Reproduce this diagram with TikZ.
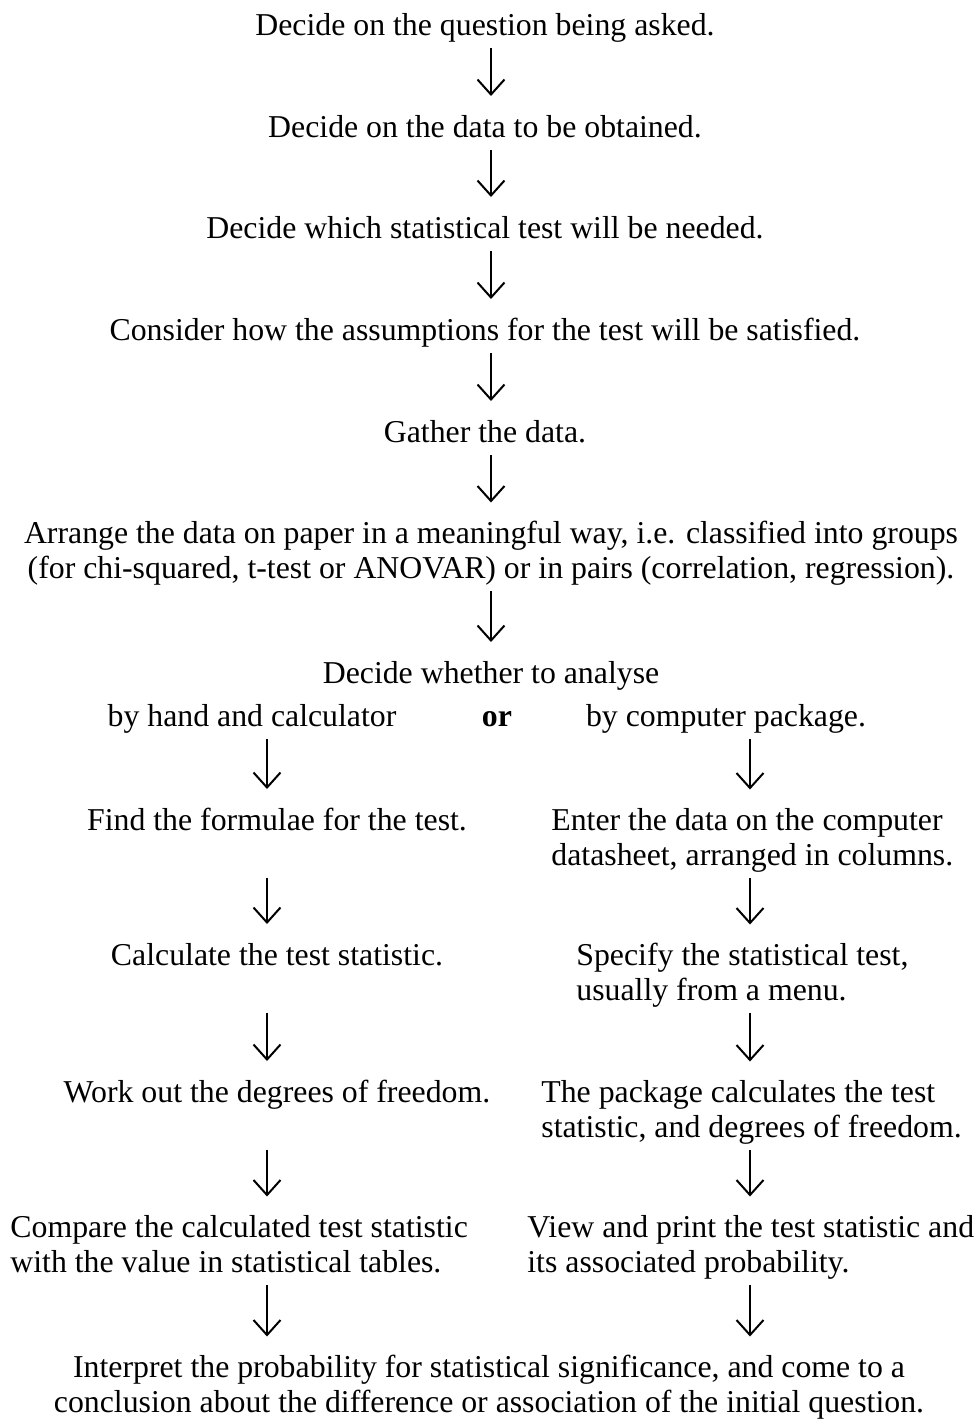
\documentclass[tikz,border=0pt]{standalone}
\usepackage{fontspec}
\setmainfont{Liberation Serif}
\usetikzlibrary{arrows.meta}
\newcommand{\flowfont}{\fontsize{15.9}{17.25}\selectfont}

\begin{document}
\begin{tikzpicture}[x=0.5pt, y=-0.5pt,
    every node/.style={inner sep=0pt, anchor=base, font=\flowfont},
    flow/.style={-{Straight Barb[length=7.5pt, width=13.5pt]}, line width=1pt}]
  \useasboundingbox (0,0) rectangle (974,1426);
  \coordinate (mid) at (491,0);
  \coordinate (lc) at (267,0);
  \coordinate (rc) at (750,0);
  \node (question) at (485,35) {Decide on the question being asked.};
  \node (data) at (485,137) {Decide on the data to be obtained.};
  \node (test) at (485,238) {Decide which statistical test will be needed.};
  \node (assume) at (485,340) {Consider how the assumptions for the test will be satisfied.};
  \node (gather) at (485,442) {Gather the data.};
  \node[align=center] (arrange) at (491,578) {Arrange the data on paper in a meaningful way, i.e. classified into groups\\(for chi-squared, t-test or ANOVAR) or in pairs (correlation, regression).};
  \node (decide) at (491,683) {Decide whether to analyse};
  \node (hand) at (252,726) {by hand and calculator};
  \node (orword) at (497,726) {\textbf{or}};
  \node (computer) at (726,726) {by computer package.};
  \node (formulae) at (277,830) {Find the formulae for the test.};
  \node[align=left, anchor=base west] (enter) at (551,865) {Enter the data on the computer\\datasheet, arranged in columns.};
  \node (calc) at (277,965) {Calculate the test statistic.};
  \node[align=left, anchor=base west] (specify) at (576,1000) {Specify the statistical test,\\usually from a menu.};
  \node (dof) at (277,1102) {Work out the degrees of freedom.};
  \node[align=left, anchor=base west] (package) at (541,1137) {The package calculates the test\\statistic, and degrees of freedom.};
  \node[align=left, anchor=base west] (compare) at (10,1272) {Compare the calculated test statistic\\with the value in statistical tables.};
  \node[align=left, anchor=base west] (view) at (527,1272) {View and print the test statistic and\\its associated probability.};
  \node[align=center] (interpret) at (489,1412) {Interpret the probability for statistical significance, and come to a\\conclusion about the difference or association of the initial question.};
  \draw[flow] ([yshift=-6.5pt]question.base -| mid) -- ([yshift=20.5pt]data.base -| mid);
  \draw[flow] ([yshift=-6.5pt]data.base -| mid) -- ([yshift=20.5pt]test.base -| mid);
  \draw[flow] ([yshift=-6.5pt]test.base -| mid) -- ([yshift=20.5pt]assume.base -| mid);
  \draw[flow] ([yshift=-6.5pt]assume.base -| mid) -- ([yshift=20.5pt]gather.base -| mid);
  \draw[flow] ([yshift=-6.5pt]gather.base -| mid) -- ([yshift=37.75pt]arrange.base -| mid);
  \draw[flow] ([yshift=-6.5pt]arrange.base -| mid) -- ([yshift=20.5pt]decide.base -| mid);
  \draw[flow] ([yshift=-6.5pt]hand.base -| lc) -- ([yshift=20.5pt]formulae.base -| lc);
  \draw[flow] ([yshift=-6.5pt]computer.base -| rc) -- ([yshift=37.75pt]enter.base -| rc);
  \draw[flow] ([yshift=-23.75pt]formulae.base -| lc) -- ([yshift=20.5pt]calc.base -| lc);
  \draw[flow] ([yshift=-6.5pt]enter.base -| rc) -- ([yshift=37.75pt]specify.base -| rc);
  \draw[flow] ([yshift=-23.75pt]calc.base -| lc) -- ([yshift=20.5pt]dof.base -| lc);
  \draw[flow] ([yshift=-6.5pt]specify.base -| rc) -- ([yshift=37.75pt]package.base -| rc);
  \draw[flow] ([yshift=-23.75pt]dof.base -| lc) -- ([yshift=37.75pt]compare.base -| lc);
  \draw[flow] ([yshift=-6.5pt]package.base -| rc) -- ([yshift=37.75pt]view.base -| rc);
  \draw[flow] ([yshift=-6.5pt]compare.base -| lc) -- ([yshift=37.75pt]interpret.base -| lc);
  \draw[flow] ([yshift=-6.5pt]view.base -| rc) -- ([yshift=37.75pt]interpret.base -| rc);
\end{tikzpicture}
\end{document}
